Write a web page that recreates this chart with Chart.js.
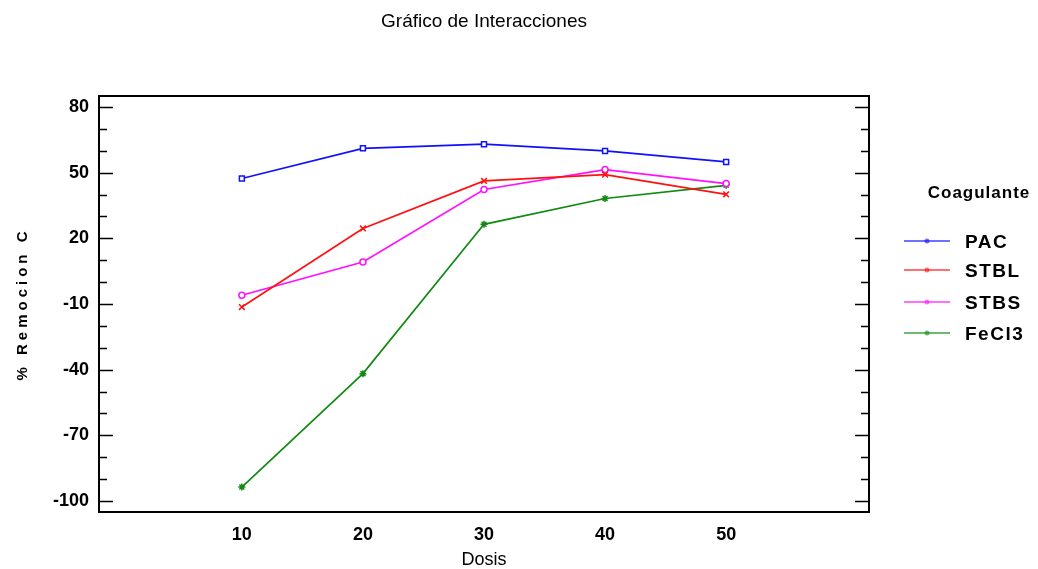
<!DOCTYPE html>
<html>
<head>
<meta charset="utf-8">
<script src="https://cdn.jsdelivr.net/npm/chart.js@4.4.0/dist/chart.umd.min.js"></script>
<style>
  html, body { margin: 0; padding: 0; background: #fff; }
  #wrap { width: 1038px; height: 569px; }
</style>
</head>
<body>
<div id="wrap"><canvas id="chart" width="1038" height="569"></canvas></div>
<script>
// data
const dosis = [10, 20, 30, 40, 50];
const pac = [47.3, 61.1, 63.0, 59.9, 54.9];
const stbl = [-11.4, 24.5, 46.2, 49.1, 40.1];
const stbs = [-6.0, 9.2, 42.3, 51.4, 45.0];
const fecl3 = [-93.6, -41.8, 26.4, 38.2, 44.2];
const yTickLabels = [80, 50, 20, -10, -40, -70, -100];
const xTickLabels = [10, 20, 30, 40, 50];

const SANS = "'Liberation Sans', Arial, sans-serif";

function pts(vals) {
  return dosis.map((d, i) => ({ x: d, y: vals[i] }));
}

// frame, inward ticks, titles and legend
const decor = {
  id: "decor",
  afterDraw(chart) {
    const ctx = chart.ctx;
    const a = chart.chartArea;
    const ys = chart.scales.y;
    ctx.save();
    ctx.strokeStyle = "#000";

    // ticks every 10, long ones on the labelled values
    ctx.lineWidth = 1.5;
    for (let v = -100; v <= 80; v += 10) {
      const y = Math.round(ys.getPixelForValue(v)) + 0.5;
      const len = yTickLabels.includes(v) ? 14 : 8;
      ctx.beginPath();
      ctx.moveTo(a.left, y);
      ctx.lineTo(a.left + len, y);
      ctx.moveTo(a.right, y);
      ctx.lineTo(a.right - len, y);
      ctx.stroke();
    }

    ctx.lineWidth = 2;
    ctx.strokeRect(a.left, a.top, a.right - a.left, a.bottom - a.top);

    ctx.fillStyle = "#000";
    ctx.textAlign = "center";
    ctx.textBaseline = "middle";

    ctx.font = "19px " + SANS;
    ctx.fillText("Gráfico de Interacciones", (a.left + a.right) / 2, 22);

    ctx.font = "18px " + SANS;
    ctx.fillText("Dosis", (a.left + a.right) / 2, 560);

    // y title, spaced out
    ctx.save();
    ctx.translate(23, 306);
    ctx.rotate(-Math.PI / 2);
    ctx.font = "bold 15px " + SANS;
    ctx.letterSpacing = "4px";
    ctx.fillText("% Remocion C", 2, 0);
    ctx.restore();

    // legend
    ctx.save();
    ctx.font = "bold 17px " + SANS;
    ctx.letterSpacing = "1px";
    ctx.fillText("Coagulante", 979, 193);
    ctx.restore();
    const lineY = [241, 270, 302, 333];
    ctx.textAlign = "left";
    ctx.font = "bold 19px " + SANS;
    ctx.letterSpacing = "1.5px";
    chart.data.datasets.forEach((ds, i) => {
      const y = lineY[i];
      ctx.strokeStyle = ds.borderColor;
      ctx.globalAlpha = 0.6;
      ctx.lineWidth = 2;
      ctx.beginPath();
      ctx.moveTo(904, y);
      ctx.lineTo(950, y);
      ctx.stroke();
      ctx.fillStyle = ds.borderColor;
      ctx.beginPath();
      ctx.arc(927, y, 2.5, 0, Math.PI * 2);
      ctx.fill();
      ctx.globalAlpha = 1;
      ctx.fillStyle = "#000";
      ctx.fillText(ds.label, 965, y + 2);
    });
    ctx.restore();
  },
};

const ctx = document.getElementById("chart").getContext("2d");
new Chart(ctx, {
  type: "line",
  data: {
    datasets: [
      {
        label: "PAC",
        data: pts(pac),
        borderColor: "#1010ff",
        pointStyle: "rect",
        pointRadius: 3.5,
        pointBackgroundColor: "#fff",
      },
      {
        label: "STBL",
        data: pts(stbl),
        borderColor: "#ff1010",
        pointStyle: "crossRot",
        pointRadius: 4,
      },
      {
        label: "STBS",
        data: pts(stbs),
        borderColor: "#ff10ff",
        pointStyle: "circle",
        pointRadius: 3,
        pointBackgroundColor: "#fff",
      },
      {
        label: "FeCl3",
        data: pts(fecl3),
        borderColor: "#118a11",
        pointStyle: "star",
        pointRadius: 3.5,
      },
    ],
  },
  options: {
    responsive: false,
    animation: false,
    layout: { padding: { left: 0, top: 96, right: 169, bottom: 0 } },
    elements: {
      line: { borderWidth: 1.7, tension: 0 },
      point: { borderWidth: 1.5 },
    },
    plugins: {
      legend: { display: false },
      title: { display: false },
      tooltip: { enabled: false },
    },
    scales: {
      x: {
        type: "linear",
        min: -1.8,
        max: 61.8,
        afterBuildTicks: (s) => {
          s.ticks = xTickLabels.map((v) => ({ value: v }));
        },
        afterFit: (s) => {
          s.height = 57;
        },
        grid: { display: false, drawTicks: false },
        border: { display: false },
        ticks: {
          padding: 12,
          color: "#000",
          maxRotation: 0,
          font: { family: SANS, size: 18, weight: "bold" },
        },
      },
      y: {
        min: -105,
        max: 85,
        afterBuildTicks: (s) => {
          s.ticks = yTickLabels.map((v) => ({ value: v }));
        },
        afterFit: (s) => {
          s.width = 99;
        },
        grid: { display: false, drawTicks: false },
        border: { display: false },
        ticks: {
          padding: 10,
          color: "#000",
          font: { family: SANS, size: 18, weight: "bold" },
        },
      },
    },
  },
  plugins: [decor],
});
</script>
</body>
</html>
